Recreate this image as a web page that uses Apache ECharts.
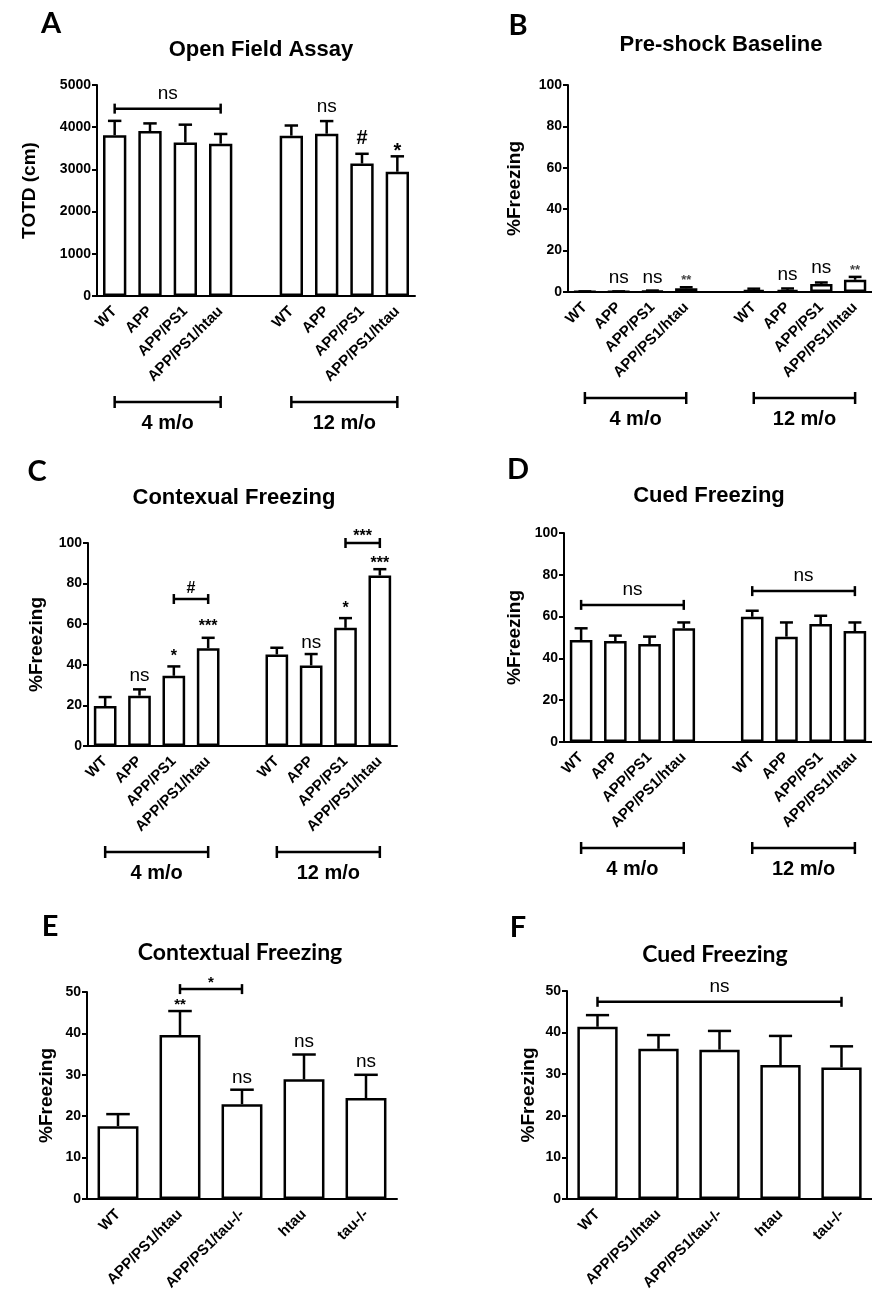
<!DOCTYPE html>
<html>
<head>
<meta charset="utf-8">
<script src="https://cdn.jsdelivr.net/npm/echarts@6/dist/echarts.min.js"></script>
<style>
  html, body { margin: 0; padding: 0; background: #fff; }
  #chart { width: 872px; height: 1296px; }
</style>
</head>
<body>
<div id="chart"></div>
<script>
// categories
const ageCats = ['WT', 'APP', 'APP/PS1', 'APP/PS1/htau', '', 'WT', 'APP', 'APP/PS1', 'APP/PS1/htau']
const tauCats = ['WT', 'APP/PS1/htau', 'APP/PS1/tau-/-', 'htau', 'tau-/-']
const ageGroups = [[0, 3, '4 m/o'], [5, 8, '12 m/o']]

// A - open field (mean, SEM)
const openFieldMean = [3810, 3910, 3640, 3610, null, 3800, 3845, 3140, 2945]
const openFieldSem = [340, 180, 420, 230, null, 240, 300, 230, 365]
// B - pre-shock baseline
const baselineMean = [0.2, 0.2, 0.5, 1.8, null, 1.0, 1.0, 3.9, 5.9]
const baselineSem = [0.1, 0.1, 0.2, 0.5, null, 0.6, 0.7, 0.7, 1.4]
// C - contexual freezing
const contextMean = [19.7, 24.8, 34.6, 48.2, null, 45.1, 39.7, 58.2, 84.0]
const contextSem = [4.4, 3.1, 4.6, 5.1, null, 3.3, 5.6, 4.8, 3.1]
// D - cued freezing
const cuedMean = [48.8, 48.3, 46.9, 54.4, null, 59.9, 50.4, 56.4, 53.1]
const cuedSem = [5.6, 2.6, 3.5, 2.8, null, 2.9, 6.8, 4.0, 4.1]
// E - contextual freezing, tau lines
const tauContextMean = [17.6, 39.6, 22.9, 28.9, 24.4]
const tauContextSem = [2.9, 5.8, 3.5, 6.0, 5.6]
// F - cued freezing, tau lines
const tauCuedMean = [41.4, 36.1, 35.9, 32.2, 31.6]
const tauCuedSem = [2.8, 3.3, 4.5, 7.0, 5.1]

// significance marks: [category, value, text]
const openFieldMarks = [[6, 4480, 'ns'], [7, 3744, '#'], [8, 3531, '*']]
const baselineMarks = [[1, 6.8, 'ns'], [2, 6.8, 'ns'], [3, 7.0, '**'], [6, 8.2, 'ns'], [7, 11.6, 'ns'], [8, 11.8, '**']]
const contextMarks = [[1, 34.5, 'ns'], [2, 45.6, '*'], [3, 60.6, '***'], [6, 50.7, 'ns'], [7, 69.5, '*'], [8, 91.6, '***']]
const tauContextMarks = [[1, 47.8, '**'], [2, 29.2, 'ns'], [3, 37.9, 'ns'], [4, 33.1, 'ns']]
// brackets: [from, to, value, text]
const openFieldBrackets = [[0, 3, 4440, 'ns']]
const contextBrackets = [[2, 3, 72.4, '#'], [7, 8, 100, '***']]
const cuedBrackets = [[0, 3, 65.6, 'ns'], [5, 8, 72.2, 'ns']]
const tauContextBrackets = [[1, 2, 50.7, '*']]
const tauCuedBrackets = [[0, 4, 47.4, 'ns']]

const FONT = "'Liberation Sans', Arial, sans-serif"
const CAL = "Lato, 'Open Sans', sans-serif"

const chart = echarts.init(document.getElementById('chart'))

const xAxisCfg = (gi, cats) => ({
  type: 'category',
  gridIndex: gi,
  data: cats,
  axisLine: { lineStyle: { color: '#000', width: 2 } },
  axisTick: { alignWithLabel: true, length: 6, lineStyle: { color: '#000', width: 2 } },
  axisLabel: { interval: 0, rotate: 45, color: '#000', fontSize: 15, fontWeight: 'bold', fontFamily: FONT, margin: 13 }
})

const yAxisCfg = (gi, max, interval, name, gap) => ({
  type: 'value',
  gridIndex: gi,
  min: 0,
  max: max,
  interval: interval,
  name: name,
  nameLocation: 'middle',
  nameGap: gap,
  nameTextStyle: { color: '#000', fontSize: 19, fontWeight: 'bold', fontFamily: FONT },
  axisLine: { show: true, lineStyle: { color: '#000', width: 2 } },
  axisTick: { show: true, length: 5, lineStyle: { color: '#000', width: 2 } },
  axisLabel: { color: '#000', fontSize: 14, fontWeight: 'bold', fontFamily: FONT, margin: 6, formatter: v => String(v) },
  splitLine: { show: false }
})

const bars = (i, mean) => ({
  type: 'bar',
  xAxisIndex: i,
  yAxisIndex: i,
  barWidth: '66%',
  data: mean.map(v => v == null ? '-' : v),
  itemStyle: { color: '#fff', borderColor: '#000', borderWidth: 2.5 },
  z: 2
})

const errorBars = (i, mean, sem) => ({
  type: 'custom',
  xAxisIndex: i,
  yAxisIndex: i,
  z: 3,
  silent: true,
  encode: { x: 0, y: [1, 2] },
  data: mean.map((m, k) => [k, m, m + sem[k]]).filter(d => d[1] != null),
  renderItem: (params, api) => {
    const base = api.coord([api.value(0), api.value(1)])
    const top = api.coord([api.value(0), api.value(2)])
    const half = api.size([1, 0])[0] * 0.19
    const st = { stroke: '#000', lineWidth: 2.5 }
    return {
      type: 'group',
      children: [
        { type: 'line', shape: { x1: base[0], y1: base[1], x2: top[0], y2: top[1] }, style: st },
        { type: 'line', shape: { x1: top[0] - half, y1: top[1], x2: top[0] + half, y2: top[1] }, style: st }
      ]
    }
  }
})

const sigText = (i, marks, starSize, starColor) => ({
  type: 'custom',
  xAxisIndex: i,
  yAxisIndex: i,
  z: 5,
  silent: true,
  encode: { x: 0, y: 1 },
  data: marks.map(m => [m[0], m[1]]),
  renderItem: (params, api) => {
    const t = marks[params.dataIndex][2]
    const p = api.coord([api.value(0), api.value(1)])
    const ns = t === 'ns'
    const fs = ns ? 19 : starSize
    const shift = t.charAt(0) === '*' ? fs * 0.22 : 0
    return {
      type: 'text',
      x: p[0],
      y: p[1] + shift,
      style: {
        text: t, fontSize: fs, fontWeight: ns ? 'normal' : 'bold', fontFamily: FONT,
        fill: ns ? '#000' : starColor, align: 'center', verticalAlign: 'middle'
      }
    }
  }
})

const brackets = (i, list, starSize) => ({
  type: 'custom',
  xAxisIndex: i,
  yAxisIndex: i,
  z: 5,
  silent: true,
  encode: { x: [0, 1], y: 2 },
  data: list.map(b => [b[0], b[1], b[2]]),
  renderItem: (params, api) => {
    const t = list[params.dataIndex][3]
    const a = api.coord([api.value(0), api.value(2)])
    const c = api.coord([api.value(1), api.value(2)])
    const ns = t === 'ns'
    const fs = ns ? 19 : starSize
    const shift = t.charAt(0) === '*' ? fs * 0.22 : 0
    const st = { stroke: '#000', lineWidth: 2.5 }
    return {
      type: 'group',
      children: [
        { type: 'line', shape: { x1: a[0], y1: a[1], x2: c[0], y2: c[1] }, style: st },
        { type: 'line', shape: { x1: a[0], y1: a[1] - 5, x2: a[0], y2: a[1] + 5 }, style: st },
        { type: 'line', shape: { x1: c[0], y1: c[1] - 5, x2: c[0], y2: c[1] + 5 }, style: st },
        {
          type: 'text', x: (a[0] + c[0]) / 2, y: a[1] - (ns ? 15 : 10) + shift,
          style: {
            text: t, fontSize: fs, fontWeight: ns ? 'normal' : 'bold', fontFamily: FONT,
            fill: '#000', align: 'center', verticalAlign: 'middle'
          }
        }
      ]
    }
  }
})

// "4 m/o" / "12 m/o" brackets under the tick labels
const ageBrackets = i => ({
  type: 'custom',
  xAxisIndex: i,
  yAxisIndex: i,
  z: 5,
  silent: true,
  encode: { x: [0, 1] },
  data: ageGroups.map(g => [g[0], g[1]]),
  renderItem: (params, api) => {
    const a = api.coord([api.value(0), 0])
    const c = api.coord([api.value(1), 0])
    const y = a[1] + 106
    const st = { stroke: '#000', lineWidth: 2.5 }
    return {
      type: 'group',
      children: [
        { type: 'line', shape: { x1: a[0], y1: y, x2: c[0], y2: y }, style: st },
        { type: 'line', shape: { x1: a[0], y1: y - 6, x2: a[0], y2: y + 6 }, style: st },
        { type: 'line', shape: { x1: c[0], y1: y - 6, x2: c[0], y2: y + 6 }, style: st },
        {
          type: 'text', x: (a[0] + c[0]) / 2, y: y + 21,
          style: {
            text: ageGroups[params.dataIndex][2], fontSize: 20, fontWeight: 'bold', fontFamily: FONT,
            fill: '#000', align: 'center', verticalAlign: 'middle'
          }
        }
      ]
    }
  }
})

const label = (x, y, text, size, family) => ({
  type: 'text', x: x, y: y,
  style: { text: text, fontSize: size, fontWeight: 'bold', fontFamily: family, fill: '#000', align: 'center', verticalAlign: 'middle' }
})

const option = {
  animation: false,
  backgroundColor: '#fff',
  grid: [
    { left: 97, top: 85, width: 318, height: 211 },
    { left: 568, top: 85, width: 312, height: 207 },
    { left: 88, top: 543, width: 309, height: 203 },
    { left: 564, top: 533, width: 315, height: 209 },
    { left: 87, top: 992, width: 310, height: 207 },
    { left: 567, top: 991, width: 310, height: 208 }
  ],
  xAxis: [
    xAxisCfg(0, ageCats), xAxisCfg(1, ageCats), xAxisCfg(2, ageCats),
    xAxisCfg(3, ageCats), xAxisCfg(4, tauCats), xAxisCfg(5, tauCats)
  ],
  yAxis: [
    yAxisCfg(0, 5000, 1000, 'TOTD (cm)', 58),
    yAxisCfg(1, 100, 20, '%Freezing', 44),
    yAxisCfg(2, 100, 20, '%Freezing', 42),
    yAxisCfg(3, 100, 20, '%Freezing', 40),
    yAxisCfg(4, 50, 10, '%Freezing', 31),
    yAxisCfg(5, 50, 10, '%Freezing', 29)
  ],
  graphic: [
    label(51, 24, 'A', 29, CAL),
    label(518, 26, 'B', 29, CAL),
    label(37, 472, 'C', 29, CAL),
    label(518, 470, 'D', 29, CAL),
    label(50, 927, 'E', 29, CAL),
    label(518, 928, 'F', 29, CAL),
    label(261, 50, 'Open Field Assay', 22, FONT),
    label(721, 45, 'Pre-shock Baseline', 22, FONT),
    label(234, 498, 'Contexual Freezing', 22, FONT),
    label(709, 496, 'Cued Freezing', 22, FONT),
    label(240, 953, 'Contextual Freezing', 23, CAL),
    label(715, 955, 'Cued Freezing', 23, CAL)
  ],
  series: [
    bars(0, openFieldMean), errorBars(0, openFieldMean, openFieldSem),
    sigText(0, openFieldMarks, 20, '#000'), brackets(0, openFieldBrackets, 20), ageBrackets(0),

    bars(1, baselineMean), errorBars(1, baselineMean, baselineSem),
    sigText(1, baselineMarks, 13, '#444'), ageBrackets(1),

    bars(2, contextMean), errorBars(2, contextMean, contextSem),
    sigText(2, contextMarks, 16, '#000'), brackets(2, contextBrackets, 16), ageBrackets(2),

    bars(3, cuedMean), errorBars(3, cuedMean, cuedSem),
    brackets(3, cuedBrackets, 16), ageBrackets(3),

    bars(4, tauContextMean), errorBars(4, tauContextMean, tauContextSem),
    sigText(4, tauContextMarks, 15, '#000'), brackets(4, tauContextBrackets, 15),

    bars(5, tauCuedMean), errorBars(5, tauCuedMean, tauCuedSem),
    brackets(5, tauCuedBrackets, 15)
  ]
}

chart.setOption(option)
</script>
</body>
</html>
